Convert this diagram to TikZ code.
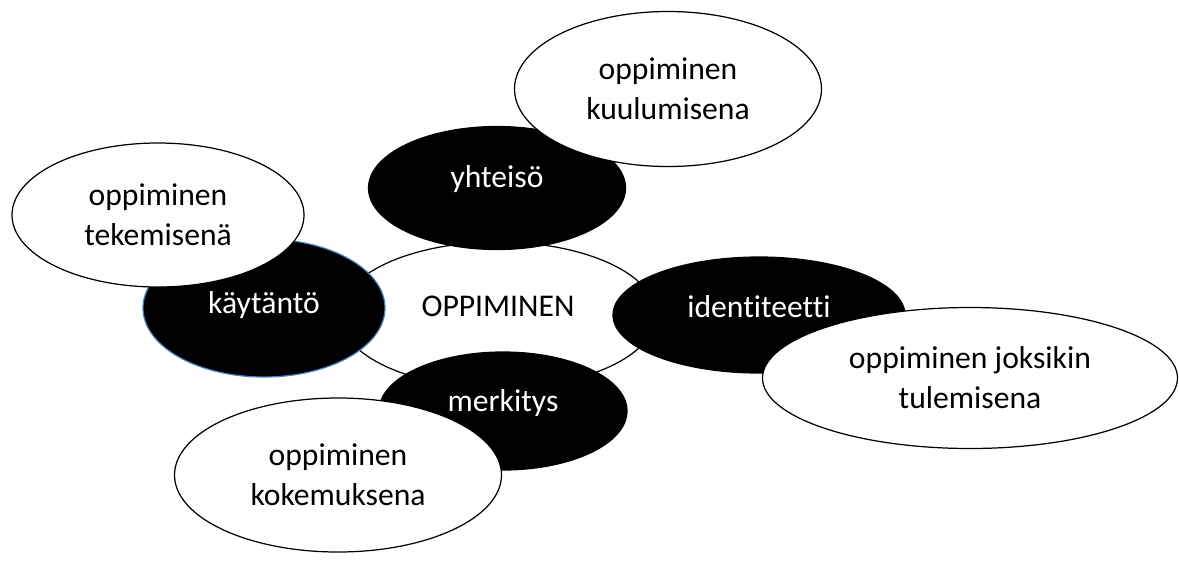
\documentclass[tikz,border=0pt]{standalone}
\usepackage{fontspec}
\setmainfont{Carlito}[Ligatures=NoCommon]
\usepackage{tikz}
\usetikzlibrary{shapes.geometric}
\definecolor{rimblue}{HTML}{4A7EBB}
\tikzstyle{blob} = [ellipse,inner sep=0pt,align=center,line width=0.7pt,font=\fontsize{18}{22.7}\selectfont]
\tikzstyle{hub} = [blob,draw=black,fill=white]
\tikzstyle{dark} = [blob,draw=black,fill=black,text=white]
\tikzstyle{way} = [blob,draw=black,fill=white,text=black]
\newcommand{\lift}[2]{\raisebox{#1}[\height][\depth]{#2}}

\begin{document}
\begin{tikzpicture}
        \useasboundingbox (0,0) rectangle (23.58,-11.22);
        \node[hub, minimum width=6.32cm, minimum height=2.92cm] at (9.96,-6.30) (O) {\lift{0.18cm}{OPPIMINEN}};

        \node[dark, minimum width=5.14cm, minimum height=2.46cm] at (9.94,-3.76) (Y) {\lift{0.17cm}{yhteisö}};
        \node[dark, draw=rimblue, minimum width=4.84cm, minimum height=2.76cm] at (5.28,-6.16) (K) {\lift{0.06cm}{käytäntö}};
        \node[dark, minimum width=5.84cm, minimum height=2.32cm] at (15.18,-6.30) (I) {\lift{0.16cm}{identiteetti}};
        \node[dark, minimum width=4.96cm, minimum height=2.36cm] at (10.06,-8.22) (M) {\lift{0.16cm}{merkitys}};

        \node[way, minimum width=6.14cm, minimum height=3.10cm] at (13.36,-1.78) (YK) {oppiminen\\kuulumisena};
        \node[way, minimum width=5.84cm, minimum height=2.88cm] at (3.16,-4.30) (KT) {oppiminen\\tekemisenä};
        \node[way, minimum width=8.30cm, minimum height=2.82cm] at (19.40,-7.56) (IJ) {oppiminen joksikin\\tulemisena};
        \node[way, minimum width=6.54cm, minimum height=3.08cm] at (6.76,-9.50) (MK) {oppiminen\\kokemuksena};
    \end{tikzpicture}
\end{document}
